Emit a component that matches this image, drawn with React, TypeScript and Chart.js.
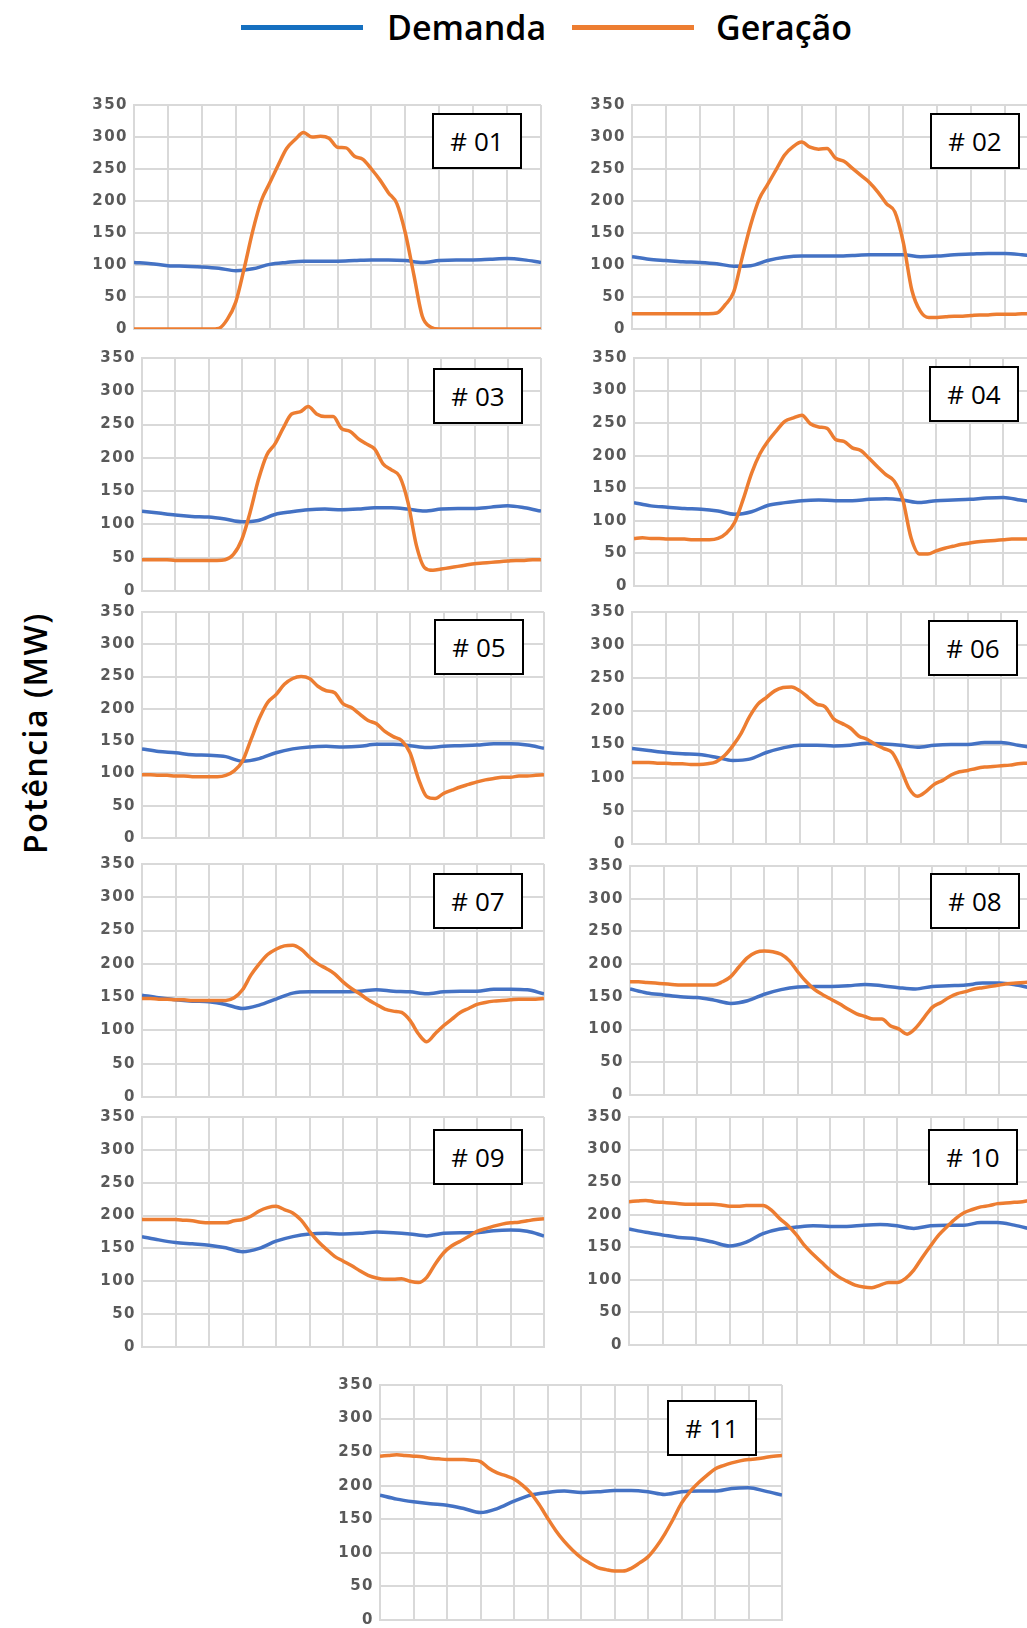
import React, { useEffect, useRef } from "react";
import { Chart, registerables } from "chart.js";

Chart.register(...registerables);

// ---------- data ----------
const SERIES_NAMES = ["Demanda", "Geração"];
const Y_TICKS = [0, 50, 100, 150, 200, 250, 300, 350];
const PANEL_LABELS = ["# 01", "# 02", "# 03", "# 04", "# 05", "# 06", "# 07", "# 08", "# 09", "# 10", "# 11"];
const AXIS_TITLE = "Potência (MW)";

// hours of the day (categories)
const GEN_HOURS = Array.from({ length: 49 }, (_, i) => i * 0.5);
const DEM_HOURS = Array.from({ length: 25 }, (_, i) => i);

const DEM_01 = [104,102,99,98,97,95,91,94,101,104,106,106,106,107,108,108,107,104,107,108,108,109,110,108,104];
const DEM_02 = [113,109,107,105,104,102,98,99,107,112,114,114,114,115,116,116,116,113,114,116,117,118,118,116,113];
const DEM_03 = [120,117,114,112,111,108,104,106,115,119,122,123,122,123,125,125,123,120,123,124,124,126,128,125,120];
const DEM_04 = [128,123,121,119,118,115,110,114,124,128,131,132,131,131,133,134,132,128,131,132,133,135,136,132,128];
const DEM_05 = [138,134,132,129,128,126,119,123,132,138,141,142,141,142,145,145,143,140,142,143,144,146,146,144,139];
const DEM_06 = [144,141,138,136,135,131,126,128,138,145,149,149,148,149,152,151,149,146,149,150,150,153,153,149,145];
const DEM_07 = [153,149,146,144,143,139,133,138,147,156,158,158,158,159,161,159,158,155,158,159,159,162,162,161,155];
const DEM_08 = [162,156,153,150,149,145,140,144,154,161,165,166,166,167,169,167,164,162,166,167,168,171,171,168,163];
const DEM_09 = [168,163,159,157,155,151,145,150,161,168,172,173,172,173,175,174,172,169,173,174,174,177,178,176,169];
const DEM_10 = [178,173,169,165,163,158,152,158,171,178,181,183,182,182,184,185,183,179,183,184,184,188,188,184,178];
const DEM_11 = [186,180,176,173,171,166,160,166,177,186,190,192,190,191,193,193,191,187,191,192,192,196,197,192,186];

const GEN_01 = [0,0,0,0,0,0,0,0,0,0,
  1,15,42,95,153,200,228,256,282,296,307,300,301,298,284,283,270,265,250,233,213,196,150,85,20,3,
  0,0,0,0,0,0,0,0,0,0,0,0,0];
const GEN_02 = [24,24,24,24,24,24,24,24,24,24,
  25,38,58,112,163,203,226,249,272,285,292,284,281,282,267,262,251,240,229,214,196,183,135,61,28,18,
  18,19,20,20,21,22,22,23,23,23,24,24,25];
const GEN_03 = [47,47,47,47,46,46,46,46,46,46,
  47,55,77,118,167,204,221,245,266,269,277,266,262,262,244,240,229,221,213,191,182,172,133,69,35,31,
  33,35,37,39,41,42,43,44,45,46,46,47,47];
const GEN_04 = [73,74,73,73,72,72,72,71,71,71,
  73,81,98,133,173,203,223,239,253,258,262,249,244,242,225,222,212,208,196,183,171,161,133,74,49,49,
  54,58,61,64,66,68,69,70,71,72,72,72,72];
const GEN_05 = [98,98,97,97,96,96,95,95,95,95,
  97,104,119,152,185,210,222,238,247,250,247,235,228,225,208,202,192,182,177,165,157,151,132,92,64,61,
  69,74,79,83,87,90,92,94,94,96,96,97,98];
const GEN_06 = [123,123,123,122,122,121,121,120,120,121,
  124,133,148,167,192,211,221,231,236,237,231,221,211,207,189,182,175,163,158,150,144,138,114,84,72,79,
  90,96,104,109,111,114,116,117,118,119,121,122,123];
const GEN_07 = [148,148,147,147,146,146,145,145,145,145,
  145,149,161,183,200,214,222,227,228,222,210,200,193,185,173,163,155,146,139,132,129,127,115,95,83,95,
  107,117,127,133,139,142,144,145,146,147,147,147,148];
const GEN_08 = [173,173,172,171,170,169,168,168,168,168,
  168,173,181,196,210,218,220,219,215,205,188,173,161,153,146,139,131,124,120,116,116,106,101,93,102,118,
  134,141,149,155,158,162,164,166,168,170,171,172,173];
const GEN_09 = [194,194,194,194,194,193,192,190,189,189,
  189,192,194,199,207,212,214,209,204,193,176,161,149,138,131,124,116,109,105,103,103,104,100,98,106,126,
  143,154,161,168,176,180,184,187,189,190,192,194,195];
const GEN_10 = [220,221,222,220,219,218,217,216,216,216,
  216,215,213,213,214,214,214,207,194,183,169,152,139,127,115,105,98,92,89,88,92,96,96,102,115,134,
  152,169,182,194,203,208,212,214,217,218,219,220,222];
const GEN_11 = [244,245,246,245,244,243,241,240,239,239,
  239,238,236,226,219,215,210,201,189,172,152,133,117,104,93,85,78,75,73,73,77,85,94,109,128,150,
  174,191,204,215,225,230,234,237,239,240,242,244,245];

const DEMANDS = [DEM_01, DEM_02, DEM_03, DEM_04, DEM_05, DEM_06, DEM_07, DEM_08, DEM_09, DEM_10, DEM_11];
const GENS = [GEN_01, GEN_02, GEN_03, GEN_04, GEN_05, GEN_06, GEN_07, GEN_08, GEN_09, GEN_10, GEN_11];

// ---------- layout (plot rectangles and label boxes, page pixels) ----------
const LAYOUT = [
  { L: 134, R: 541, T: 102, B: 332, bx: 432, by: 113 },
  { L: 632, R: 1039, T: 102, B: 332, bx: 930, by: 113 },
  { L: 142, R: 541, T: 355, B: 594, bx: 433, by: 368 },
  { L: 634, R: 1037, T: 355, B: 589, bx: 929, by: 366 },
  { L: 142, R: 544, T: 609, B: 841, bx: 434, by: 619 },
  { L: 632, R: 1035, T: 609, B: 847, bx: 928, by: 620 },
  { L: 142, R: 544, T: 861, B: 1100, bx: 433, by: 873 },
  { L: 630, R: 1033, T: 863, B: 1098, bx: 930, by: 873 },
  { L: 142, R: 544, T: 1114, B: 1350, bx: 433, by: 1129 },
  { L: 629, R: 1031, T: 1114, B: 1348, bx: 928, by: 1129 },
  { L: 380, R: 782, T: 1382, B: 1623, bx: 667, by: 1400 },
];

const BLUE = "#4472C4";
const ORANGE = "#ED7D31";
const LEGEND_BLUE = "#1570C0";
const GRID = "#D9D9D9";
const YW = 70;
const PT = 12;
const PB = 12;
const PR = 4;

type Rect = { L: number; R: number; T: number; B: number; bx: number; by: number };

const spacingPlugin = {
  id: "tickSpacing",
  beforeDraw(chart: any) {
    try {
      (chart.ctx as any).letterSpacing = "1.5px";
    } catch (e) {
      /* ignore */
    }
  },
};

function Panel({ p, demand, gen, label }: { p: Rect; demand: number[]; gen: number[]; label: string }) {
  const ref = useRef<HTMLCanvasElement>(null);
  const w = p.R - p.L + YW + PR;
  const h = p.B - p.T + PT + PB;

  useEffect(() => {
    const chart = new Chart(ref.current as HTMLCanvasElement, {
      type: "line",
      data: {
        datasets: [
          {
            label: SERIES_NAMES[0],
            data: DEM_HOURS.map((x, i) => ({ x, y: demand[i] })),
            borderColor: BLUE,
            backgroundColor: BLUE,
            borderWidth: 3.5,
            pointRadius: 0,
            cubicInterpolationMode: "monotone",
            order: 1,
          },
          {
            label: SERIES_NAMES[1],
            data: GEN_HOURS.map((x, i) => ({ x, y: gen[i] })),
            borderColor: ORANGE,
            backgroundColor: ORANGE,
            borderWidth: 3.5,
            pointRadius: 0,
            cubicInterpolationMode: "monotone",
            order: 0,
          },
        ],
      },
      options: {
        responsive: false,
        animation: false,
        events: [],
        layout: { padding: { left: 0, top: PT, bottom: PB, right: PR } },
        plugins: { legend: { display: false }, tooltip: { enabled: false }, title: { display: false } },
        scales: {
          x: {
            type: "linear",
            min: 0,
            max: 24,
            ticks: { display: false, stepSize: 2 },
            grid: { color: GRID, lineWidth: 2, drawTicks: false },
            border: { color: GRID, width: 2 },
          },
          y: {
            type: "linear",
            min: Y_TICKS[0],
            max: Y_TICKS[Y_TICKS.length - 1],
            afterFit: (s: any) => {
              s.width = YW;
            },
            ticks: {
              stepSize: 50,
              padding: 6,
              color: "#595959",
              font: { family: "'DejaVu Sans'", size: 15, weight: "bold" },
            },
            grid: { color: GRID, lineWidth: 2, drawTicks: false },
            border: { color: GRID, width: 2 },
          },
        },
      },
      plugins: [spacingPlugin],
    } as any);
    return () => chart.destroy();
  }, []);

  return (
    <>
      <canvas
        ref={ref}
        width={w}
        height={h}
        style={{ position: "absolute", left: p.L - YW, top: p.T - PT, width: w, height: h }}
      />
      <div
        style={{
          position: "absolute",
          left: p.bx,
          top: p.by,
          width: 90,
          height: 56,
          boxSizing: "border-box",
          border: "2px solid #000",
          background: "#fff",
          display: "flex",
          alignItems: "center",
          justifyContent: "center",
          fontFamily: "'Open Sans', sans-serif",
          fontSize: 26,
          color: "#000",
          whiteSpace: "nowrap",
        }}
      >
        {label}
      </div>
    </>
  );
}

const legendText: React.CSSProperties = {
  position: "absolute",
  top: 8,
  fontFamily: "'Open Sans', sans-serif",
  fontSize: 34,
  fontWeight: 600,
  lineHeight: "38px",
  color: "#000",
  whiteSpace: "nowrap",
};

export default function App() {
  return (
    <div
      style={{
        position: "absolute",
        left: 0,
        top: 0,
        width: 1027,
        height: 1628,
        overflow: "hidden",
        background: "#fff",
      }}
    >
      {/* legend */}
      <div style={{ position: "absolute", left: 241, top: 25, width: 122, height: 5, background: LEGEND_BLUE }} />
      <div style={{ ...legendText, left: 387 }}>{SERIES_NAMES[0]}</div>
      <div style={{ position: "absolute", left: 572, top: 25, width: 122, height: 5, background: ORANGE }} />
      <div style={{ ...legendText, left: 716 }}>{SERIES_NAMES[1]}</div>

      {/* y axis title */}
      <div
        style={{
          position: "absolute",
          left: 35,
          top: 733,
          transform: "translate(-50%, -50%) rotate(-90deg)",
          fontFamily: "'Open Sans', sans-serif",
          fontSize: 32,
          fontWeight: 600,
          letterSpacing: "1.5px",
          color: "#000",
          whiteSpace: "nowrap",
          lineHeight: "32px",
        }}
      >
        {AXIS_TITLE}
      </div>

      {LAYOUT.map((p, i) => (
        <Panel key={i} p={p} demand={DEMANDS[i]} gen={GENS[i]} label={PANEL_LABELS[i]} />
      ))}
    </div>
  );
}
